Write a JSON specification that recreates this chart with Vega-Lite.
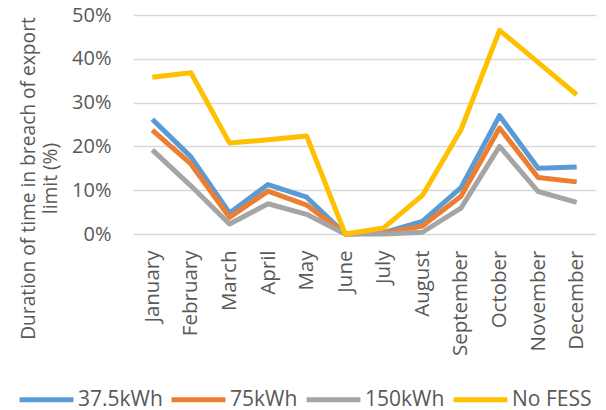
{
  "$schema": "https://vega.github.io/schema/vega-lite/v6.json",
  "autosize": "none",
  "width": 463,
  "height": 219,
  "padding": {"left": 133, "top": 15, "right": 10, "bottom": 176},
  "background": "white",
  "config": {
    "font": "Open Sans",
    "view": {"stroke": null},
    "axis": {"labelColor": "#595959", "titleColor": "#595959", "labelFont": "Open Sans", "titleFont": "Open Sans", "titleFontWeight": "normal"},
    "legend": {"labelColor": "#595959", "labelFont": "Open Sans"}
  },
  "data": {
    "values": [
      {"month": "January", "series": "37.5kWh", "value": 26.2},
      {"month": "February", "series": "37.5kWh", "value": 17.6},
      {"month": "March", "series": "37.5kWh", "value": 4.8},
      {"month": "April", "series": "37.5kWh", "value": 11.3},
      {"month": "May", "series": "37.5kWh", "value": 8.4},
      {"month": "June", "series": "37.5kWh", "value": 0},
      {"month": "July", "series": "37.5kWh", "value": 0.3},
      {"month": "August", "series": "37.5kWh", "value": 2.9},
      {"month": "September", "series": "37.5kWh", "value": 10.6},
      {"month": "October", "series": "37.5kWh", "value": 27.0},
      {"month": "November", "series": "37.5kWh", "value": 15.0},
      {"month": "December", "series": "37.5kWh", "value": 15.3},
      {"month": "January", "series": "75kWh", "value": 23.7},
      {"month": "February", "series": "75kWh", "value": 16.0},
      {"month": "March", "series": "75kWh", "value": 3.8},
      {"month": "April", "series": "75kWh", "value": 9.8},
      {"month": "May", "series": "75kWh", "value": 6.6},
      {"month": "June", "series": "75kWh", "value": 0},
      {"month": "July", "series": "75kWh", "value": 0.2},
      {"month": "August", "series": "75kWh", "value": 1.8},
      {"month": "September", "series": "75kWh", "value": 8.6},
      {"month": "October", "series": "75kWh", "value": 24.2},
      {"month": "November", "series": "75kWh", "value": 12.9},
      {"month": "December", "series": "75kWh", "value": 11.9},
      {"month": "January", "series": "150kWh", "value": 19.2},
      {"month": "February", "series": "150kWh", "value": 11.0},
      {"month": "March", "series": "150kWh", "value": 2.3},
      {"month": "April", "series": "150kWh", "value": 6.9},
      {"month": "May", "series": "150kWh", "value": 4.5},
      {"month": "June", "series": "150kWh", "value": 0},
      {"month": "July", "series": "150kWh", "value": 0},
      {"month": "August", "series": "150kWh", "value": 0.4},
      {"month": "September", "series": "150kWh", "value": 5.9},
      {"month": "October", "series": "150kWh", "value": 20.0},
      {"month": "November", "series": "150kWh", "value": 9.7},
      {"month": "December", "series": "150kWh", "value": 7.2},
      {"month": "January", "series": "No FESS", "value": 35.8},
      {"month": "February", "series": "No FESS", "value": 36.8},
      {"month": "March", "series": "No FESS", "value": 20.8},
      {"month": "April", "series": "No FESS", "value": 21.5},
      {"month": "May", "series": "No FESS", "value": 22.4},
      {"month": "June", "series": "No FESS", "value": 0},
      {"month": "July", "series": "No FESS", "value": 1.4},
      {"month": "August", "series": "No FESS", "value": 8.8},
      {"month": "September", "series": "No FESS", "value": 23.8},
      {"month": "October", "series": "No FESS", "value": 46.5},
      {"month": "November", "series": "No FESS", "value": 39.2},
      {"month": "December", "series": "No FESS", "value": 31.8}
    ]
  },
  "mark": {"type": "line", "strokeWidth": 5, "strokeJoin": "round"},
  "encoding": {
    "x": {
      "field": "month",
      "type": "ordinal",
      "sort": null,
      "scale": {"type": "point", "padding": 0.5},
      "axis": {
        "title": null,
        "labelAngle": -90,
        "labelAlign": "right",
        "labelBaseline": "middle",
        "labelFontSize": 20.5,
        "labelPadding": 16,
        "ticks": false,
        "domain": false,
        "grid": false
      }
    },
    "y": {
      "field": "value",
      "type": "quantitative",
      "scale": {"domain": [0, 50], "nice": false},
      "axis": {
        "values": [0, 10, 20, 30, 40, 50],
        "labelExpr": "datum.value + '%'",
        "labelFontSize": 20,
        "labelPadding": 22,
        "ticks": false,
        "domain": false,
        "gridColor": "#d9d9d9",
        "gridWidth": 1.5,
        "title": ["Duration of time in breach of export", "limit (%)"],
        "titleFontSize": 19.2,
        "titleLineHeight": 22,
        "titleAngle": -90,
        "titleAlign": "center",
        "titleBaseline": "top",
        "titleX": -114,
        "titleY": 163
      }
    },
    "color": {
      "field": "series",
      "type": "nominal",
      "sort": null,
      "scale": {"domain": ["37.5kWh", "75kWh", "150kWh", "No FESS"], "range": ["#5b9bd5", "#ed7d31", "#a5a5a5", "#ffc000"]},
      "legend": {
        "title": null,
        "orient": "none",
        "direction": "horizontal",
        "columns": 4,
        "legendX": -116,
        "legendY": 355,
        "symbolType": "stroke",
        "symbolSize": 2900,
        "symbolStrokeWidth": 5,
        "labelFontSize": 21,
        "labelOffset": 2,
        "columnPadding": -2
      }
    }
  }
}
